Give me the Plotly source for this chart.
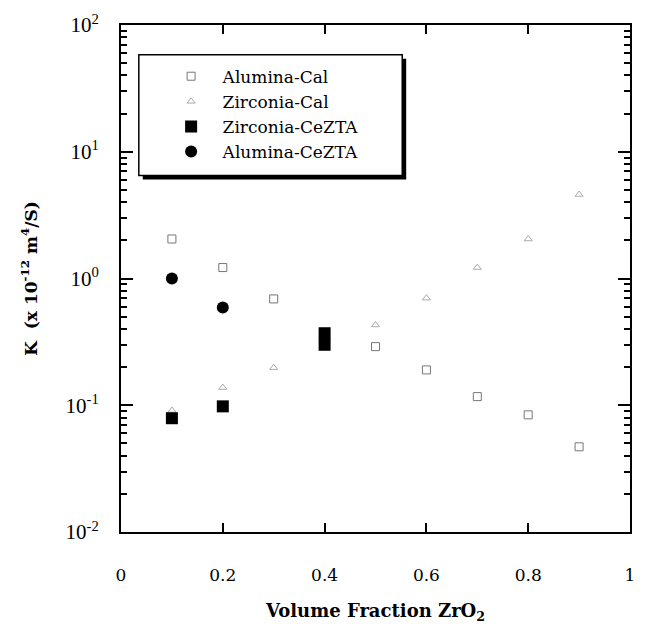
import plotly.graph_objects as go

# ---- data ----
alumina_cal_x = [0.1, 0.2, 0.3, 0.5, 0.6, 0.7, 0.8, 0.9]
alumina_cal_y = [2.05, 1.22, 0.69, 0.29, 0.19, 0.117, 0.084, 0.047]

zirconia_cal_x = [0.1, 0.2, 0.3, 0.5, 0.6, 0.7, 0.8, 0.9]
zirconia_cal_y = [0.091, 0.138, 0.198, 0.43, 0.70, 1.22, 2.05, 4.6]

zirconia_ceZTA_x = [0.1, 0.2, 0.4, 0.4]
zirconia_ceZTA_y = [0.079, 0.098, 0.37, 0.30]

alumina_ceZTA_x = [0.1, 0.2]
alumina_ceZTA_y = [1.0, 0.59]

x_tickvals = [0, 0.2, 0.4, 0.6, 0.8, 1]
x_ticktext = ["0", "0.2", "0.4", "0.6", "0.8", "1"]
y_tickvals = [0.01, 0.1, 1, 10, 100]
y_ticktext = ["10<sup>-2</sup>", "10<sup>-1</sup>", "10<sup>0</sup>", "10<sup>1</sup>", "10<sup>2</sup>"]
y_minorvals = [k * 10.0 ** e for e in (-2, -1, 0, 1) for k in range(2, 10)]

SERIF = "Liberation Serif, Times New Roman, serif"
WIDE = "DejaVu Serif, serif"

fig = go.Figure()
fig.add_trace(go.Scatter(
    x=alumina_cal_x, y=alumina_cal_y, mode="markers", name="Alumina-Cal",
    marker=dict(symbol="square-open", size=8, color="#777777", line=dict(width=1, color="#777777"))))
fig.add_trace(go.Scatter(
    x=zirconia_cal_x, y=zirconia_cal_y, mode="markers", name="Zirconia-Cal",
    marker=dict(symbol="triangle-up-open", size=7, color="#aaaaaa", line=dict(width=1, color="#aaaaaa"))))
fig.add_trace(go.Scatter(
    x=zirconia_ceZTA_x, y=zirconia_ceZTA_y, mode="markers", name="Zirconia-CeZTA",
    marker=dict(symbol="square", size=12, color="black")))
fig.add_trace(go.Scatter(
    x=alumina_ceZTA_x, y=alumina_ceZTA_y, mode="markers", name="Alumina-CeZTA",
    marker=dict(symbol="circle", size=12, color="black")))

L, R, T, B = 121, 635, 22, 534
W, H = 646, 629

def px(x):
    return (x - L) / (R - L)

def py(y):
    return (B - y) / (B - T)

# legend box with drop shadow
fig.add_shape(type="rect", xref="paper", yref="paper",
              x0=px(143), x1=px(409), y0=py(178), y1=py(56),
              fillcolor="black", line=dict(width=0), layer="below")
fig.add_shape(type="rect", xref="paper", yref="paper",
              x0=px(139), x1=px(405), y0=py(174), y1=py(52),
              fillcolor="white", line=dict(width=1.5, color="black"), layer="below")

fig.update_layout(
    width=W, height=H,
    margin=dict(l=L, r=W - R, t=T, b=H - B),
    paper_bgcolor="white", plot_bgcolor="white",
    font=dict(family=SERIF, color="black"),
    showlegend=True,
    legend=dict(x=px(160), y=py(56), xanchor="left", yanchor="top",
                bgcolor="rgba(0,0,0,0)", borderwidth=0,
                font=dict(family=WIDE, size=17, color="black"),
                itemwidth=53, tracegroupgap=0),
    xaxis=dict(range=[0, 1], tickmode="array", tickvals=x_tickvals, ticktext=x_ticktext,
               ticks="inside", ticklen=9, tickwidth=1.5, tickcolor="black",
               showline=True, linewidth=2, linecolor="black", mirror="ticks",
               showgrid=False, zeroline=False,
               tickfont=dict(family=WIDE, size=17), ticklabelstandoff=27,
               title=dict(text="<b>Volume Fraction ZrO<sub>2</sub></b>",
                          font=dict(family=WIDE, size=18), standoff=20)),
    yaxis=dict(type="log", range=[-2, 2], tickmode="array", tickvals=y_tickvals, ticktext=y_ticktext,
               ticks="inside", ticklen=12, tickwidth=1.5, tickcolor="black",
               minor=dict(tickmode="array", tickvals=y_minorvals, ticks="inside",
                          ticklen=6, tickwidth=1.5, tickcolor="black", showgrid=False),
               showline=True, linewidth=2, linecolor="black", mirror="ticks",
               showgrid=False, zeroline=False,
               tickfont=dict(family=SERIF, size=21), ticklabelstandoff=16,
               title=dict(text="<b>K  (x 10<sup>-12</sup> m<sup>4</sup>/S)</b>",
                          font=dict(family=WIDE, size=17), standoff=24)),
)

fig.write_html("out.html")
